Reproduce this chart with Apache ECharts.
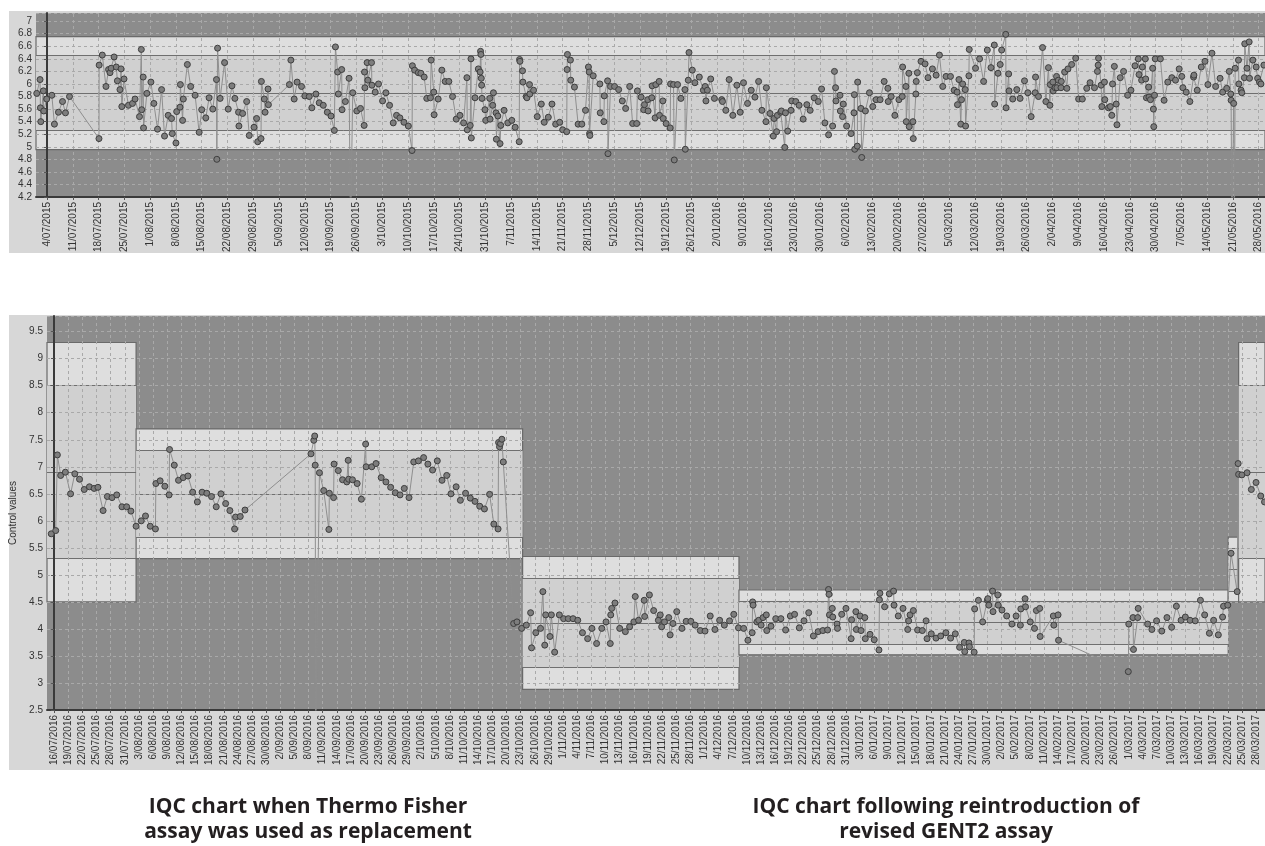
<!DOCTYPE html>
<html><head><meta charset="utf-8">
<script src="https://cdn.jsdelivr.net/npm/echarts@6/dist/echarts.min.js"></script>
<style>html,body{margin:0;padding:0;background:#fff;}#c{width:1265px;height:846px;}</style>
</head><body><div id="c"></div>
<script>
// x values are days after the base date of each chart
const TOP_BASE = Date.UTC(2015, 6, 4);      // 4/07/2015
const BOTTOM_BASE = Date.UTC(2016, 6, 16);  // 16/07/2016
const TOP_RANGE = [-3.0, 330.7];
const BOTTOM_RANGE = [-1.5, 256.9];
const TOP_TICK_STEP = 7, TOP_TICK_LAST = 329;
const BOTTOM_TICK_STEP = 3, BOTTOM_TICK_LAST = 255;

// control limits: mean and SD per period
const topLimits = [
  {from: -3.0, to: 330.7, mean: 5.855, sd: 0.3}
];
const bottomLimits = [
  {from: -1.5, to: 17.4, mean: 6.9, sd: 0.8},
  {from: 17.4, to: 99.4, mean: 6.5, sd: 0.4},
  {from: 99.4, to: 145.3, mean: 4.11, sd: 0.41},
  {from: 145.3, to: 249.1, mean: 4.12, sd: 0.2},
  {from: 249.1, to: 251.3, mean: 5.1, sd: 0.2},
  {from: 251.3, to: 256.9, mean: 6.9, sd: 0.8}
];

// top chart control values [day, value]
const topQC = [
[-2.8,5.85],[-1.9,6.07],[-1.8,5.62],[-1.7,5.40],[-1.0,5.89],[-0.9,5.57],[-0.1,5.76],[1.3,5.82],[2.0,5.36],[3.1,5.55],[4.2,5.72],[5.0,5.54],[6.1,5.80],
[14.1,5.13],[14.15,6.30],[15.0,6.46],[16.0,5.96],[16.7,6.23],[17.1,6.18],[17.4,6.25],[18.2,6.43],[18.8,6.27],[19.1,6.05],[19.8,5.91],[20.1,6.24],[20.3,5.64],[20.9,6.08],[22.1,5.66],[23.2,5.69],[23.9,5.76],[25.1,5.48],[25.6,6.55],[25.7,5.59],[26.1,6.11],[26.2,5.30],[27.1,5.85],[28.2,6.03],[29.0,5.69],[30.0,5.28],[31.1,5.91],[31.9,5.17],[32.9,5.50],[33.8,5.45],[34.0,5.21],[35.0,5.06],[35.2,5.56],[36.1,5.63],[36.2,5.99],[36.8,5.42],[37.0,5.76],[38.1,6.31],[39.0,5.96],[40.2,5.82],[41.3,5.23],[42.0,5.59],[43.1,5.46],[44.0,5.78],[45.0,5.60],[46.0,6.07],[46.1,4.80],[46.3,6.57],[47.0,5.77],[48.2,6.34],[49.2,5.60],[50.2,5.97],[51.0,5.77],[52.0,5.55],[52.1,5.33],[53.1,5.53],[54.2,5.72],[54.9,5.18],[56.2,5.31],[56.9,5.45],[57.2,5.08],[58.1,5.13],[58.2,6.04],[59.0,5.76],[59.2,5.55],[60.0,5.92],[60.1,5.67],
[65.8,5.99],[66.2,6.38],[67.1,5.76],[67.9,6.03],[69.1,5.96],[70.0,5.81],[71.2,5.80],[71.9,5.62],[73.0,5.84],[73.9,5.70],[75.0,5.66],[76.1,5.55],[77.1,5.49],[78.0,5.26],[78.3,6.59],[78.9,6.19],[79.1,5.84],[80.0,6.23],[80.1,5.59],[81.0,5.72],[82.0,6.09],[82.4,3.6],[83.0,5.86],[84.1,5.57],[85.1,5.61],[86.1,5.34],[86.2,6.19],[86.3,5.94],[86.9,6.34],[87.1,6.06],[88.1,6.34],[88.2,5.98],[89.1,5.87],[90.0,6.00],[91.1,5.73],[92.0,5.86],[93.0,5.66],[94.0,5.38],[94.9,5.50],[95.8,5.46],[96.9,5.39],[98.1,5.33],[99.1,4.94],[99.2,6.29],[99.8,6.22],[100.8,6.18],[101.5,6.17],[102.4,6.11],[103.1,5.77],[104.1,5.78],[104.3,6.38],[105.0,5.87],[105.1,5.51],[106.2,5.76],[107.2,6.22],[108.1,6.04],[109.1,6.04],[110.1,5.80],[111.1,5.44],[112.1,5.50],[113.1,5.38],[114.0,6.10],[114.1,5.27],[114.9,5.34],[115.1,6.40],[115.2,5.14],[116.2,5.78],[117.1,6.24],[117.6,6.19],[117.7,6.52],[117.8,6.47],[117.9,6.09],[118.0,5.98],[118.1,5.77],[118.9,5.59],[119.1,5.42],[120.2,5.77],[120.3,5.44],[121.0,5.66],[121.2,5.86],[121.9,5.54],[122.0,5.12],[122.4,5.49],[123.0,5.05],[123.2,5.34],[124.1,5.58],[125.1,5.38],[126.2,5.42],[127.1,5.31],[128.2,5.08],[128.3,6.39],[128.4,6.36],[129.1,6.21],[129.2,6.03],[130.1,5.80],[130.3,5.78],[131.0,5.99],[131.1,5.84],[132.1,5.90],[133.1,5.48],[134.2,5.68],[135.0,5.39],[136.1,5.47],[137.1,5.68],[138.1,5.36],[139.2,5.39],[140.0,5.27],[141.1,5.24],[141.2,6.23],[141.3,6.47],[142.1,6.38],[142.2,6.06],[143.2,5.95],[144.2,5.36],[145.2,5.36],[146.2,5.58],[147.0,6.27],[147.2,6.19],[147.3,5.21],[147.4,5.18],[148.3,6.13],[150.1,6.00],[150.2,5.54],[151.2,5.40],[151.3,5.81],[152.2,6.05],[152.3,4.89],[153.0,5.96],[154.1,5.96],[155.2,5.91],[156.2,5.73],[157.1,5.61],[158.2,5.96],[159.0,5.37],[160.1,5.37],[160.3,5.89],[161.3,5.79],[162.0,5.59],[162.2,5.67],[163.1,5.75],[163.2,5.57],[164.2,5.78],[164.3,5.97],[165.1,5.46],[165.3,5.99],[166.2,6.04],[166.3,5.50],[167.2,5.73],[167.3,5.45],[168.1,5.37],[169.2,5.30],[169.3,6.00],[170.1,5.99],[170.3,4.79],[171.2,5.99],[172.1,5.77],[173.2,5.91],[173.3,4.96],[174.1,6.06],[174.3,6.50],[175.2,6.22],[175.9,6.02],[177.1,6.11],[178.2,5.90],[178.7,5.96],[178.9,5.73],[179.3,5.90],[180.2,6.08],[181.2,5.77],[183.2,5.75],[183.4,5.72],[184.3,5.58],[185.2,6.07],[186.2,5.50],[187.3,5.98],[188.2,5.55],[189.1,6.02],[190.2,5.69],[191.2,5.90],[192.2,5.79],[193.2,6.04],[194.1,5.58],[195.2,5.40],[195.3,5.94],[196.3,5.53],[197.2,5.17],[197.4,5.45],[198.1,5.24],[198.3,5.50],[199.2,5.55],[199.4,5.57],[200.3,4.99],[200.5,5.54],[201.1,5.25],[202.0,5.58],[202.2,5.73],[203.3,5.72],[204.2,5.66],[205.3,5.44],[206.3,5.67],[207.2,5.58],[208.3,5.78],[209.4,5.72],[210.3,5.92],[211.2,5.38],[212.2,5.19],[213.3,5.33],[213.8,6.20],[214.1,5.94],[214.2,5.73],[215.3,5.82],[215.4,5.57],[216.0,5.48],[216.2,5.68],[217.1,5.33],[218.3,5.21],[219.1,5.54],[219.2,5.83],[219.3,4.96],[220.0,5.01],[220.1,6.03],[221.0,5.61],[221.2,4.83],[222.2,5.57],[223.3,5.86],[224.2,5.64],[225.1,5.75],[226.2,5.75],[227.3,6.04],[228.3,5.93],[228.4,5.72],[229.2,5.80],[230.2,5.50],[231.3,5.75],[232.2,5.80],[232.3,6.27],[233.2,5.96],[233.3,5.40],[234.0,6.17],[234.1,5.32],[235.1,5.40],[235.2,5.13],[235.9,5.84],[236.0,6.04],[236.3,6.18],[237.3,6.36],[238.4,6.32],[239.2,6.10],[240.4,6.24],[241.4,6.14],[242.3,6.46],[243.2,5.96],[244.1,6.12],[245.3,6.12],[246.3,5.90],[247.1,5.87],[247.2,5.67],[247.6,6.07],[248.1,5.36],[248.3,5.75],[248.6,6.00],[249.3,5.91],[249.4,5.33],[250.3,6.13],[250.4,6.55],[252.1,6.25],[253.2,6.40],[254.3,6.04],[255.3,6.54],[256.3,6.26],[257.2,6.62],[257.3,5.68],[258.2,6.17],[258.8,6.31],[259.2,6.54],[260.3,6.79],[260.4,5.62],[261.1,6.16],[261.2,5.89],[262.2,5.76],[263.3,5.91],[264.2,5.77],[265.4,6.05],[266.3,5.86],[267.2,5.48],[268.3,5.86],[268.4,6.11],[269.2,5.80],[270.3,6.58],[271.2,5.72],[271.9,6.26],[272.3,5.66],[272.4,5.99],[273.1,6.03],[273.2,5.89],[273.7,5.94],[274.1,6.12],[274.2,5.94],[274.6,6.06],[275.3,5.94],[275.4,6.04],[276.3,6.19],[276.9,5.93],[277.2,6.24],[278.2,6.31],[279.3,6.41],[280.1,5.76],[281.1,5.76],[282.3,5.93],[283.2,6.02],[284.4,5.94],[285.2,6.20],[285.4,6.30],[285.5,6.41],[286.2,5.98],[286.4,5.64],[287.1,6.03],[287.2,5.75],[288.2,5.62],[288.7,5.64],[289.1,5.50],[289.3,6.00],[289.8,6.28],[290.3,5.68],[290.5,5.35],[291.4,6.10],[292.3,6.20],[293.4,5.82],[294.3,5.90],[295.4,6.29],[296.3,6.40],[296.5,6.15],[297.2,6.06],[297.4,6.27],[298.2,6.40],[298.3,6.08],[298.5,5.78],[299.1,5.95],[299.2,5.79],[299.6,5.75],[300.2,6.25],[300.4,5.60],[300.5,5.32],[300.7,5.82],[300.9,6.40],[302.3,6.40],[303.3,5.74],[304.3,6.03],[305.4,6.10],[306.4,6.06],[307.4,6.24],[308.1,6.12],[308.4,5.94],[309.3,5.87],[310.3,5.72],[311.3,6.11],[311.4,6.14],[312.3,5.90],[313.4,6.27],[314.4,6.36],[315.2,5.99],[316.3,6.49],[317.3,5.96],[318.5,6.09],[319.2,5.87],[320.3,5.93],[321.0,6.20],[321.4,5.84],[321.5,5.74],[321.7,3.6],[322.2,5.69],[322.4,3.6],[322.6,6.25],[323.5,6.38],[323.6,6.00],[324.2,5.90],[324.4,5.86],[325.1,6.10],[325.2,6.64],[325.8,6.25],[326.4,6.67],[326.5,6.09],[327.4,6.38],[328.3,6.27],[328.7,6.09],[329.2,6.03],[329.6,6.00],[330.4,6.30]
];

// bottom chart control values [day, value]
const bottomQC = [
[-0.6,5.76],[0.35,5.82],[0.7,7.22],[1.4,6.84],[2.4,6.90],[3.5,6.50],[4.4,6.87],[5.4,6.77],[6.4,6.58],[7.5,6.63],[8.5,6.60],[9.3,6.62],[10.4,6.19],[11.3,6.45],[12.3,6.43],[13.3,6.48],[14.4,6.26],[15.4,6.26],[16.3,6.18],[17.4,5.90],[18.5,6.00],[19.4,6.09],[20.4,5.90],[21.5,5.85],[21.6,6.69],[22.5,6.74],[23.5,6.64],[24.4,6.48],[24.5,7.32],[25.5,7.03],[26.4,6.75],[27.4,6.80],[28.4,6.83],[29.4,6.53],[30.4,6.35],[31.4,6.53],[32.4,6.51],[33.4,6.45],[34.4,6.26],[35.4,6.50],[36.4,6.32],[37.3,6.19],[38.3,5.85],[38.5,6.07],[39.5,6.08],[40.5,6.20],
[54.5,7.24],[55.1,7.49],[55.3,7.57],[55.4,7.03],[55.5,2.0],[56.3,6.89],[57.2,6.56],[58.3,5.84],[58.4,6.51],[59.3,6.43],[59.4,7.05],[60.3,6.93],[61.2,6.76],[62.1,6.72],[62.4,7.12],[62.5,6.77],[63.3,6.76],[64.3,6.69],[65.2,6.40],[66.1,7.42],[66.2,7.00],[67.4,7.00],[68.3,7.06],[69.4,6.80],[70.4,6.72],[71.4,6.62],[72.4,6.52],[73.4,6.48],[74.3,6.60],[75.3,6.43],[76.3,7.09],[77.3,7.11],[78.4,7.17],[79.3,7.05],[80.3,6.94],[81.3,7.11],[82.3,6.75],[83.3,6.84],[84.2,6.50],[85.3,6.63],[86.2,6.38],[87.3,6.51],[88.3,6.42],[89.3,6.36],[90.3,6.27],[91.3,6.22],[92.4,6.49],[93.3,5.94],[94.2,5.85],[94.3,7.45],[94.5,7.37],[94.7,7.43],[95.0,7.51],[95.3,7.09],
[97.5,4.10],[98.2,4.13],[99.2,4.01],[100.2,4.07],[101.1,4.30],[101.3,3.65],[102.2,3.93],[103.2,4.01],[103.7,4.69],[104.1,3.70],[104.3,4.26],[105.2,3.86],[105.5,4.26],[106.2,3.57],[107.2,4.26],[108.1,4.19],[109.1,4.19],[110.1,4.19],[111.1,4.16],[112.1,3.93],[113.2,3.82],[114.1,4.01],[115.1,3.73],[116.2,4.01],[117.1,4.13],[118.0,3.73],[118.1,4.26],[118.3,4.38],[119.0,4.48],[120.0,4.01],[121.2,3.95],[122.1,4.04],[123.0,4.13],[123.3,4.60],[124.0,4.16],[125.2,4.53],[125.3,4.23],[126.3,4.63],[127.2,4.34],[128.2,4.16],[128.6,4.26],[128.9,4.04],[129.5,4.13],[130.4,4.21],[130.7,3.89],[131.3,4.10],[132.1,4.32],[133.2,4.01],[134.1,4.14],[135.1,4.14],[136.0,4.07],[137.1,3.97],[138.1,3.96],[139.2,4.24],[140.2,3.99],[141.2,4.16],[142.2,4.07],[143.3,4.15],[144.2,4.27],[145.2,4.02],[146.3,4.01],[147.2,3.79],[148.1,3.93],[148.2,4.50],[148.3,4.44],[149.1,4.13],[149.5,4.16],[150.0,4.07],[150.4,4.21],[151.1,4.26],[151.2,3.97],[152.1,4.05],[153.1,4.19],[154.2,4.19],[155.2,3.98],[156.2,4.24],[157.1,4.27],[158.1,4.02],[159.1,4.15],[160.1,4.30],[161.1,3.87],[162.1,3.95],[163.1,3.97],[164.1,3.98],[164.3,4.73],[164.4,4.64],[164.5,4.26],[165.1,4.38],[165.2,4.22],[166.1,4.09],[166.2,4.01],[167.1,4.27],[168.0,4.38],[169.1,3.82],[169.2,4.17],[170.1,4.32],[170.2,3.99],[171.0,4.24],[171.2,3.97],[172.0,4.21],[172.1,3.82],[173.1,3.90],[174.0,3.80],[175.0,3.61],[175.1,4.54],[175.2,4.66],[176.2,4.41],[177.2,4.65],[178.1,4.70],[178.2,4.44],[179.1,4.24],[180.1,4.38],[181.1,3.99],[181.3,4.15],[181.6,4.26],[182.3,4.34],[183.2,3.98],[184.2,3.97],[185.0,4.15],[185.2,3.82],[186.1,3.91],[187.1,3.83],[188.1,3.87],[189.2,3.93],[190.2,3.83],[191.2,3.91],[192.1,3.66],[193.1,3.75],[193.2,3.58],[194.1,3.74],[194.2,3.67],[195.2,3.57],[195.3,4.37],[196.1,4.53],[197.0,4.13],[198.0,4.53],[198.1,4.56],[198.3,4.44],[199.1,4.70],[199.2,4.32],[200.2,4.63],[200.3,4.44],[201.1,4.35],[202.1,4.24],[203.2,4.09],[204.1,4.24],[205.0,4.07],[205.1,4.37],[206.0,4.56],[206.1,4.41],[207.1,4.13],[208.0,4.01],[208.4,4.34],[209.1,4.38],[209.2,3.86],[212.0,4.24],[212.1,4.07],[213.0,4.26],[213.1,3.79],
[227.9,3.21],[228.0,4.09],[228.9,4.21],[229.0,3.62],[229.9,4.21],[230.0,4.38],[232.0,4.09],[232.9,3.99],[233.9,4.15],[235.0,3.96],[236.1,4.21],[237.1,4.03],[238.1,4.42],[239.1,4.16],[240.0,4.22],[241.0,4.16],[242.1,4.15],[243.2,4.53],[244.1,4.26],[245.1,3.92],[246.0,4.16],[247.0,3.89],[247.9,4.22],[248.1,4.42],[249.0,4.44],[249.7,5.40],[251.0,4.69],[251.2,7.06],[251.3,6.86],[252.0,6.85],[253.1,6.89],[254.0,6.58],[255.0,6.71],[256.0,6.46],[256.8,6.35]
];

const CAPTION_LEFT = 'IQC chart when Thermo Fisher\nassay was used as replacement';
const CAPTION_RIGHT = 'IQC chart following reintroduction of\nrevised GENT2 assay';
const Y_NAME = 'Control values';

function ticks(last, step) { const a = []; for (let d = 0; d <= last; d += step) a.push(d); return a; }
const topTickDays = ticks(TOP_TICK_LAST, TOP_TICK_STEP);
const bottomTickDays = ticks(BOTTOM_TICK_LAST, BOTTOM_TICK_STEP);

function fmtDate(base, v) {
  const d = new Date(base + Math.round(v) * 86400000);
  return d.getUTCDate() + '/' + String(d.getUTCMonth() + 1).padStart(2, '0') + '/' + d.getUTCFullYear();
}

const FONT = 'Liberation Sans, Arial, sans-serif';
const GRID_COLOR = '#a9a9a9';
const gridLine = {show: true, lineStyle: {color: GRID_COLOR, type: [3, 3], width: 1}};

function xAxisFor(gi, range, tickDays, base) {
  return {
    type: 'value', gridIndex: gi, min: range[0], max: range[1], z: 3,
    axisLine: {show: true, onZero: false, lineStyle: {color: '#3a3a3a', width: 2}},
    axisTick: {show: true, customValues: tickDays, length: 3, lineStyle: {color: '#555'}},
    axisLabel: {customValues: tickDays, rotate: 90, margin: 5, fontSize: 10, color: '#333', fontFamily: FONT,
      formatter: v => fmtDate(base, v)},
    splitLine: {show: false}
  };
}
function yAxisFor(gi, min, max, interval, extra) {
  return Object.assign({
    type: 'value', gridIndex: gi, min: min, max: max, interval: interval, z: 3,
    axisLine: {show: true, lineStyle: {color: '#3a3a3a', width: 2}},
    axisTick: {show: true, length: 3, lineStyle: {color: '#555'}},
    axisLabel: {fontSize: 10, color: '#333', fontFamily: FONT, margin: 4, showMaxLabel: false},
    splitLine: gridLine
  }, extra || {});
}

function bandSeries(gi, limits, tickDays) {
  const areas = [], lines = [];
  limits.forEach(s => {
    areas.push([{xAxis: s.from, yAxis: s.mean - 3 * s.sd,
      itemStyle: {color: '#dedede', borderColor: '#6a6a6a', borderWidth: 1.2}},
      {xAxis: s.to, yAxis: s.mean + 3 * s.sd}]);
    areas.push([{xAxis: s.from, yAxis: s.mean - 2 * s.sd,
      itemStyle: {color: '#d0d0d0', borderWidth: 0}},
      {xAxis: s.to, yAxis: s.mean + 2 * s.sd}]);
    [-2, 0, 2].forEach(k => {
      lines.push([{coord: [s.from, s.mean + k * s.sd]}, {coord: [s.to, s.mean + k * s.sd]}]);
    });
  });
  // vertical dashed date grid lines at each labelled tick
  tickDays.forEach(d => {
    lines.push({xAxis: d, lineStyle: {color: GRID_COLOR, type: [3, 3], width: 1}});
  });
  return {
    type: 'line', xAxisIndex: gi, yAxisIndex: gi, data: [], silent: true, z: 1,
    markArea: {silent: true, z: 1, data: areas, label: {show: false}},
    markLine: {silent: true, z: 2, symbol: 'none', label: {show: false},
      lineStyle: {color: '#6f6f6f', width: 1, type: 'solid'}, data: lines}
  };
}

function dataSeries(gi, pts) {
  return {
    type: 'line', xAxisIndex: gi, yAxisIndex: gi, data: pts, z: 5, clip: true,
    showAllSymbol: true, symbol: 'circle', symbolSize: 6,
    lineStyle: {color: '#8e8e8e', width: 1},
    itemStyle: {color: '#7d7d7d', borderColor: '#3e3e3e', borderWidth: 1},
    emphasis: {disabled: true}
  };
}

const captionStyle = {fontSize: 21, fontWeight: 'bold', fontFamily: 'Open Sans', color: '#231f20', lineHeight: 25};

const chart = echarts.init(document.getElementById('c'));
chart.setOption({
  animation: false,
  graphic: [
    {type: 'rect', z: -10, shape: {x: 9, y: 11, width: 1256, height: 242}, style: {fill: '#d7d7d7'}},
    {type: 'rect', z: -10, shape: {x: 9, y: 315, width: 1256, height: 455}, style: {fill: '#d7d7d7'}}
  ],
  title: [
    {text: CAPTION_LEFT, left: 308, top: 795, textAlign: 'center', padding: 0, textStyle: captionStyle},
    {text: CAPTION_RIGHT, left: 946, top: 795, textAlign: 'center', padding: 0, textStyle: captionStyle}
  ],
  grid: [
    {left: 36, top: 13, right: 0, height: 184, show: true, backgroundColor: '#8c8c8c', borderWidth: 0},
    {left: 47, top: 316, right: 0, height: 394, show: true, backgroundColor: '#8c8c8c', borderWidth: 0}
  ],
  xAxis: [
    xAxisFor(0, TOP_RANGE, topTickDays, TOP_BASE),
    xAxisFor(1, BOTTOM_RANGE, bottomTickDays, BOTTOM_BASE)
  ],
  yAxis: [
    yAxisFor(0, 4.2, 7.13, 0.2),
    yAxisFor(1, 2.5, 9.79, 0.5, {name: Y_NAME, nameLocation: 'middle', nameGap: 29,
      nameTextStyle: {fontSize: 10, color: '#333', fontFamily: FONT}})
  ],
  series: [
    bandSeries(0, topLimits, topTickDays),
    bandSeries(1, bottomLimits, bottomTickDays),
    dataSeries(0, topQC),
    dataSeries(1, bottomQC)
  ]
});
</script>
</body></html>
